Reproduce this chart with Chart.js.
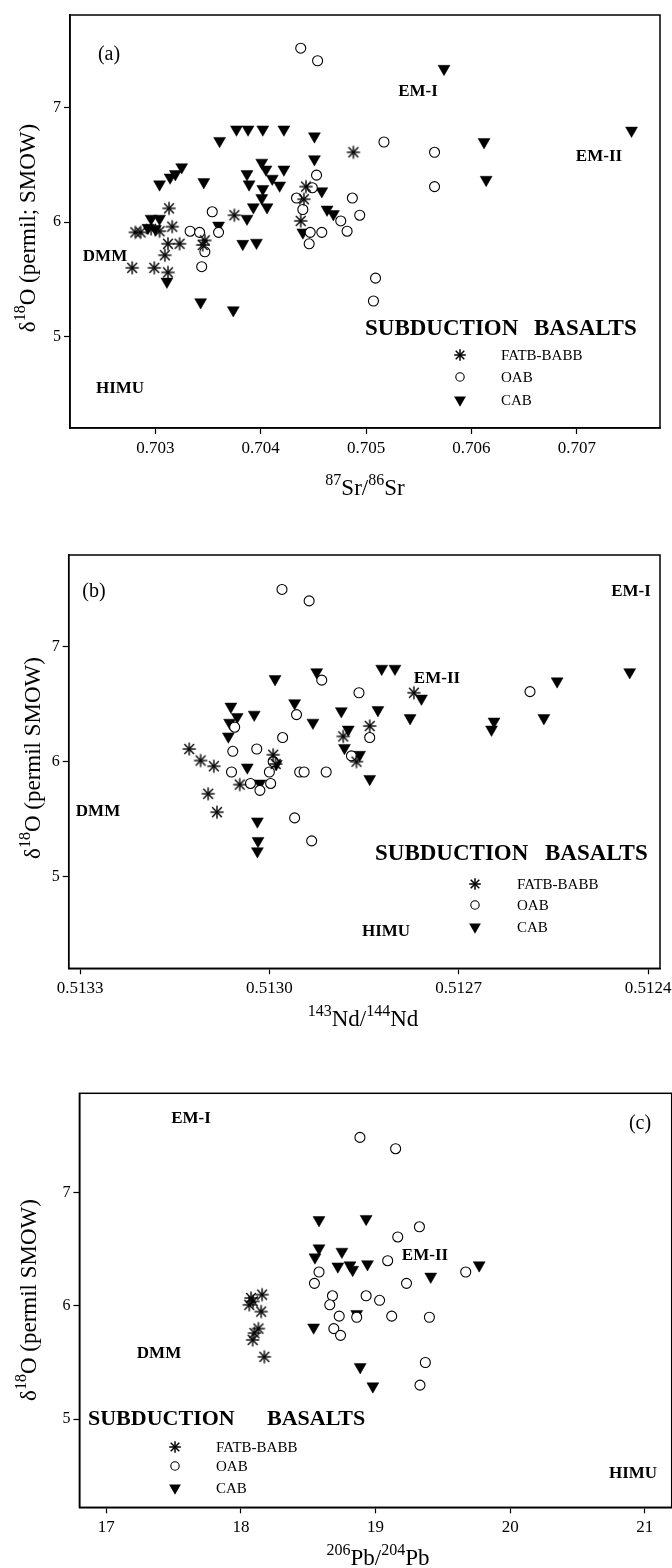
<!DOCTYPE html>
<html><head><meta charset="utf-8">
<script src="https://cdn.jsdelivr.net/npm/chart.js@4.4.1/dist/chart.umd.min.js"></script>
<style>
html,body{margin:0;padding:0;background:#fff;}
#wrap{position:relative;width:672px;height:1568px;overflow:hidden;}
canvas{position:absolute;left:0;}
</style></head><body>
<div id="wrap">
<canvas id="ca" width="672" height="530" style="top:0px"></canvas>
<canvas id="cb" width="672" height="530" style="top:540px"></canvas>
<canvas id="cc" width="672" height="498" style="top:1070px"></canvas>
</div>
<script>
// ---------- DATA ----------
// Panel (a): 87Sr/86Sr vs d18O
const fatbA = [[0.70278,5.60],[0.70281,5.91],[0.70286,5.91],[0.70299,5.60],[0.70304,5.92],[0.70309,5.71],[0.70312,5.56],[0.70312,5.81],[0.70323,5.81],[0.70313,6.12],[0.70316,5.96],[0.70296,5.94],[0.70345,5.80],[0.70347,5.84],[0.70375,6.06],[0.70438,6.01],[0.70441,6.20],[0.70443,6.31],[0.70488,6.61]];
const oabA = [[0.70438,7.52],[0.70454,7.41],[0.70517,6.70],[0.70565,6.61],[0.70565,6.31],[0.70354,6.09],[0.70333,5.92],[0.70342,5.91],[0.70360,5.91],[0.70347,5.74],[0.70344,5.61],[0.70453,6.41],[0.70449,6.30],[0.70434,6.21],[0.70440,6.11],[0.70447,5.91],[0.70458,5.91],[0.70446,5.81],[0.70487,6.21],[0.70494,6.06],[0.70476,6.01],[0.70482,5.92],[0.70509,5.51],[0.70507,5.31]];
const cabA = [[0.70361,6.71],[0.70377,6.81],[0.70388,6.81],[0.70402,6.81],[0.70422,6.81],[0.70451,6.75],[0.70451,6.55],[0.70304,6.33],[0.70314,6.39],[0.70319,6.42],[0.70325,6.48],[0.70346,6.35],[0.70387,6.42],[0.70389,6.33],[0.70401,6.52],[0.70405,6.46],[0.70411,6.38],[0.70418,6.32],[0.70422,6.46],[0.70402,6.29],[0.70401,6.21],[0.70393,6.13],[0.70406,6.13],[0.70387,6.03],[0.70383,5.81],[0.70396,5.82],[0.70458,6.27],[0.70463,6.11],[0.70469,6.07],[0.70440,5.91],[0.70296,6.03],[0.70304,6.03],[0.70293,5.95],[0.70300,5.94],[0.70311,5.48],[0.70360,5.97],[0.70343,5.30],[0.70374,5.23],[0.70574,7.34],[0.70612,6.70],[0.70614,6.37],[0.70752,6.80]];
// Panel (b): 143Nd/144Nd vs d18O
const fatbB = [[0.513127,6.11],[0.513109,6.01],[0.513088,5.96],[0.513097,5.72],[0.513083,5.56],[0.513047,5.80],[0.512994,6.06],[0.512990,5.98],[0.512883,6.22],[0.512862,6.00],[0.512841,6.31],[0.512771,6.60]];
const oabB = [[0.512980,7.50],[0.512937,7.40],[0.512587,6.61],[0.512917,6.71],[0.512858,6.60],[0.512957,6.41],[0.513055,6.30],[0.512979,6.21],[0.513058,6.09],[0.513020,6.11],[0.512994,6.00],[0.513060,5.91],[0.513000,5.91],[0.512952,5.91],[0.512945,5.91],[0.512910,5.91],[0.513030,5.81],[0.513015,5.75],[0.512998,5.81],[0.512841,6.21],[0.512870,6.05],[0.512960,5.51],[0.512933,5.31]];
const cabB = [[0.512991,6.72],[0.512925,6.78],[0.512822,6.81],[0.512801,6.81],[0.512759,6.55],[0.512777,6.38],[0.512828,6.45],[0.512886,6.44],[0.512931,6.34],[0.512960,6.51],[0.513061,6.48],[0.513051,6.39],[0.513063,6.34],[0.513024,6.41],[0.513065,6.22],[0.512875,6.28],[0.512881,6.12],[0.512857,6.06],[0.512841,5.85],[0.513035,5.95],[0.512989,5.98],[0.513015,5.81],[0.513019,5.48],[0.513018,5.31],[0.513019,5.22],[0.512644,6.35],[0.512648,6.28],[0.512565,6.38],[0.512544,6.70],[0.512429,6.78]];
// Panel (c): 206Pb/204Pb vs d18O
const fatbC = [[18.157,6.10],[18.075,6.07],[18.062,6.01],[18.090,6.04],[18.150,5.95],[18.130,5.80],[18.087,5.70],[18.174,5.55],[18.100,5.76]];
const oabC = [[18.884,7.49],[19.149,7.39],[19.326,6.70],[19.165,6.61],[19.090,6.40],[19.670,6.30],[19.230,6.20],[18.580,6.30],[18.546,6.20],[18.680,6.09],[18.660,6.01],[18.930,6.09],[19.030,6.05],[18.730,5.91],[18.860,5.90],[19.120,5.91],[19.400,5.90],[18.690,5.80],[18.740,5.74],[19.370,5.50],[19.330,5.30]];
const cabC = [[18.580,6.76],[18.930,6.77],[18.580,6.51],[18.550,6.43],[18.750,6.48],[18.720,6.35],[18.810,6.36],[18.830,6.32],[18.940,6.37],[19.410,6.26],[19.770,6.36],[18.860,5.93],[18.540,5.81],[18.886,5.46],[18.980,5.29]];
// Ticks
const xTicksA = [0.703, 0.704, 0.705, 0.706, 0.707];
const xTicksB = [0.5133, 0.5130, 0.5127, 0.5124];
const xTicksC = [17, 18, 19, 20, 21];
const yTicks = [5, 6, 7];
const seriesNames = ['FATB-BABB', 'OAB', 'CAB'];

// ---------- DRAWING ----------
const SERIF = '"Liberation Serif","Times New Roman",Times,serif';
function toPts(a){ return a.map(p => ({x:p[0], y:p[1]})); }

function drawAsterisk(ctx, x, y, r, lw){
  ctx.save(); ctx.strokeStyle='#000'; ctx.lineWidth=lw; ctx.lineCap='butt';
  const arms = [[0, r], [r, 0], [r*0.74, r*0.74], [-r*0.74, r*0.74]];
  arms.forEach(d => { ctx.beginPath(); ctx.moveTo(x-d[0], y-d[1]); ctx.lineTo(x+d[0], y+d[1]); ctx.stroke(); });
  ctx.restore();
}
// point style image for the asterisk marks
const starImg = document.createElement('canvas');
starImg.width = 18; starImg.height = 18;
drawAsterisk(starImg.getContext('2d'), 9, 9, 6.6, 1.4);

function drawRich(ctx, parts, cx, cy, size){
  const ss = Math.round(size*0.68);
  let w = 0;
  parts.forEach(p => { ctx.font = (p[1]?ss:size)+'px '+SERIF; w += ctx.measureText(p[0]).width; });
  let x = cx - w/2;
  ctx.textAlign='left'; ctx.textBaseline='alphabetic'; ctx.fillStyle='#000';
  parts.forEach(p => {
    ctx.font = (p[1]?ss:size)+'px '+SERIF;
    ctx.fillText(p[0], x, cy + size*0.33 - (p[1]? size*0.4 : 0));
    x += ctx.measureText(p[0]).width;
  });
}
function mark(ctx, type, x, y){
  ctx.save(); ctx.strokeStyle='#000'; ctx.fillStyle='#000';
  if(type==='star'){
    drawAsterisk(ctx, x, y, 5.8, 1.5);
  } else if(type==='circle'){
    ctx.lineWidth=1.1; ctx.beginPath(); ctx.arc(x,y,4.2,0,Math.PI*2); ctx.fillStyle='#fff'; ctx.fill(); ctx.stroke();
  } else {
    const r=6.8; ctx.beginPath();
    for(let k=0;k<3;k++){ const a=Math.PI + k*2*Math.PI/3; const px=x+Math.sin(a)*r, py=y-Math.cos(a)*r; if(k===0) ctx.moveTo(px,py); else ctx.lineTo(px,py); }
    ctx.closePath(); ctx.fill();
  }
  ctx.restore();
}

const annotCfg = {
  ca: {
    texts: [['(a)',109,53,20,false,'center'],['EM-I',418,90,17,true,'center'],['EM-II',599,155,17,true,'center'],['DMM',105,255,17,true,'center'],['HIMU',120,387,17,true,'center'],['SUBDUCTION',365,327,23,true,'left'],['BASALTS',534,327,23,true,'left']],
    legend: {mx:460, tx:501, rows:[355,377,400], size:15},
    xTitle: {parts:[['87',true],['Sr',false],['/',false],['86',true],['Sr',false]], x:365, y:487},
    yTitle: {parts:[['δ',false],['18',true],['O (permil; SMOW)',false]], x:27, y:228}
  },
  cb: {
    texts: [['(b)',94,50,20,false,'center'],['EM-I',631,50,17,true,'center'],['EM-II',437,137,17,true,'center'],['DMM',98,270,17,true,'center'],['HIMU',386,390,17,true,'center'],['SUBDUCTION',375,312,23,true,'left'],['BASALTS',545,312,23,true,'left']],
    legend: {mx:475, tx:517, rows:[344,365,387], size:15},
    xTitle: {parts:[['143',true],['Nd/',false],['144',true],['Nd',false]], x:363, y:478},
    yTitle: {parts:[['δ',false],['18',true],['O (permil SMOW)',false]], x:32, y:218}
  },
  cc: {
    texts: [['EM-I',191,47,17,true,'center'],['(c)',640,52,20,false,'center'],['EM-II',425,184,17,true,'center'],['DMM',159,282,17,true,'center'],['HIMU',633,402,17,true,'center'],['SUBDUCTION',88,348,22,true,'left'],['BASALTS',267,348,22,true,'left']],
    legend: {mx:175, tx:216, rows:[377,396,418], size:15},
    xTitle: {parts:[['206',true],['Pb/',false],['204',true],['Pb',false]], x:378, y:487},
    yTitle: {parts:[['δ',false],['18',true],['O (permil SMOW)',false]], x:28, y:230}
  }
};

const annotPlugin = {
  id:'annot',
  afterDraw(chart){
    const cfg = annotCfg[chart.canvas.id]; const ctx = chart.ctx; const a = chart.chartArea;
    ctx.save();
    ctx.strokeStyle='#000'; ctx.lineWidth=1.5;
    ctx.strokeRect(a.left, a.top, a.right-a.left, a.bottom-a.top);
    ctx.fillStyle='#000';
    cfg.texts.forEach(t => {
      ctx.font = (t[4]?'bold ':'') + t[3] + 'px ' + SERIF;
      ctx.textAlign = t[5]; ctx.textBaseline='alphabetic';
      ctx.fillText(t[0], t[1], t[2] + t[3]*0.33);
    });
    const L = cfg.legend; const types=['star','circle','triangle'];
    seriesNames.forEach((n,i) => {
      mark(ctx, types[i], L.mx, L.rows[i]);
      ctx.fillStyle='#000'; ctx.font = L.size+'px '+SERIF; ctx.textAlign='left'; ctx.textBaseline='alphabetic';
      ctx.fillText(n, L.tx, L.rows[i] + L.size*0.33);
    });
    drawRich(ctx, cfg.xTitle.parts, cfg.xTitle.x, cfg.xTitle.y, 23);
    ctx.save(); ctx.translate(cfg.yTitle.x, cfg.yTitle.y); ctx.rotate(-Math.PI/2);
    drawRich(ctx, cfg.yTitle.parts, 0, 0, 23);
    ctx.restore();
    ctx.restore();
  }
};

function makeChart(id, c){
  return new Chart(document.getElementById(id), {
    type:'scatter',
    data:{datasets:[
      {label:seriesNames[0], data:toPts(c.fatb), pointStyle:starImg, pointRadius:7, pointHoverRadius:7},
      {label:seriesNames[1], data:toPts(c.oab), pointStyle:'circle', pointRadius:5, pointHoverRadius:5, pointBorderColor:'#000', pointBorderWidth:1.1, pointBackgroundColor:'#fff'},
      {label:seriesNames[2], data:toPts(c.cab), pointStyle:'triangle', pointRotation:180, pointRadius:6.9, pointHoverRadius:6.9, pointBorderColor:'#000', pointBorderWidth:0.5, pointBackgroundColor:'#000'}
    ]},
    options:{
      responsive:false, animation:false, devicePixelRatio:1,
      layout:{autoPadding:false, padding:{top:c.top, right:c.right, left:0, bottom:0}},
      plugins:{legend:{display:false}, tooltip:{enabled:false}},
      events:[],
      scales:{
        x:{type:'linear', min:c.xmin, max:c.xmax, reverse:!!c.reverse,
          afterBuildTicks:s=>{ s.ticks = c.xticks.map(v=>({value:v})); },
          afterFit:s=>{ s.height=c.xh; s.paddingLeft=0; s.paddingRight=0; },
          ticks:{font:{family:SERIF, size:17}, color:'#000', padding:4, maxRotation:0, autoSkip:false, callback:v=>c.fmt(v)},
          grid:{drawOnChartArea:false, drawTicks:true, tickLength:6, tickColor:'#000', tickWidth:1.2},
          border:{display:true, color:'#000', width:1.5}},
        y:{type:'linear', min:c.ymin, max:c.ymax,
          afterBuildTicks:s=>{ s.ticks = yTicks.map(v=>({value:v})); },
          afterFit:s=>{ s.width=c.yw; s.paddingTop=0; s.paddingBottom=0; },
          ticks:{font:{family:SERIF, size:16}, color:'#000', padding:3, autoSkip:false, callback:v=>String(v)},
          grid:{drawOnChartArea:false, drawTicks:true, tickLength:6, tickColor:'#000', tickWidth:1.2},
          border:{display:true, color:'#000', width:1.5}}
      }
    },
    plugins:[annotPlugin]
  });
}

makeChart('ca', {fatb:fatbA, oab:oabA, cab:cabA, xmin:0.70219, xmax:0.70779, ymin:4.2, ymax:7.81, xticks:xTicksA, fmt:v=>v.toFixed(3), top:15, right:12, xh:102, yw:70});
makeChart('cb', {fatb:fatbB, oab:oabB, cab:cabB, xmin:0.512381, xmax:0.513318, reverse:true, ymin:4.2, ymax:7.8, xticks:xTicksB, fmt:v=>v.toFixed(4), top:15, right:12, xh:101.7, yw:68.7});
makeChart('cc', {fatb:fatbC, oab:oabC, cab:cabC, xmin:16.8, xmax:21.2, ymin:4.22, ymax:7.88, xticks:xTicksC, fmt:v=>String(Math.round(v)), top:23.3, right:0.3, xh:60.7, yw:79.4});
</script>
</body></html>
